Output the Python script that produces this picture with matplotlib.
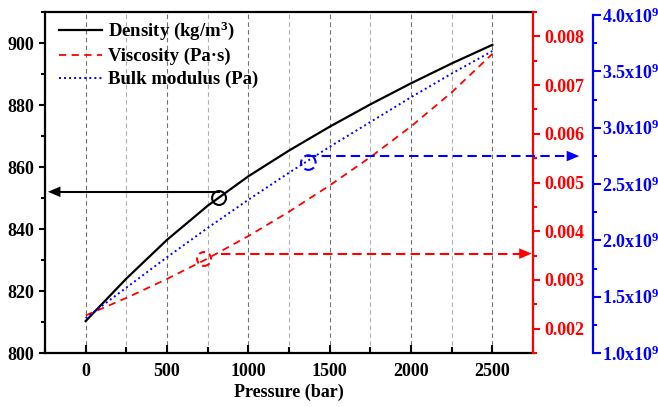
import matplotlib
matplotlib.use('Agg')
import matplotlib.pyplot as plt
from matplotlib.ticker import MultipleLocator, FuncFormatter

pressure = [0, 250, 500, 750, 1000, 1250, 1500, 1750, 2000, 2250, 2500]
density = [810.3, 824.0, 836.5, 847.5, 857.0, 865.3, 873.0, 880.2, 887.0, 893.4, 899.4]
viscosity = [0.00227, 0.00263, 0.00302, 0.00344, 0.00390, 0.00440,
             0.00494, 0.00552, 0.00615, 0.00685, 0.00764]
bulk_modulus = [1.31e9, 1.58e9, 1.85e9, 2.11e9, 2.36e9, 2.60e9,
                2.83e9, 3.05e9, 3.27e9, 3.48e9, 3.68e9]

labels = ['Density (kg/m$^3$)', 'Viscosity (Pa\u00b7s)', 'Bulk modulus (Pa)']

# circled point on each curve, and the level / ends of the arrow pointing to its axis
density_mark = (820, 850.0)
density_arrow = (820, -232, 852.0)
visc_mark = (728, 0.00343)
visc_arrow = (833, 2742, 0.00354)
bulk_mark = (1369, 2.69e9)
bulk_arrow = (1362, 3034, 2.748e9)

plt.rcParams['font.family'] = ['Liberation Serif', 'DejaVu Serif']
plt.rcParams['font.weight'] = 'bold'
plt.rcParams['mathtext.fontset'] = 'custom'
plt.rcParams['mathtext.rm'] = 'Liberation Serif:bold'
plt.rcParams['mathtext.bf'] = 'Liberation Serif:bold'
plt.rcParams['mathtext.it'] = 'Liberation Serif:bold'
plt.rcParams['mathtext.default'] = 'bf'

fig = plt.figure(figsize=(6.58, 4.07), dpi=100)
ax = fig.add_axes([45 / 658, 54 / 407, 488 / 658, 341 / 407])
ax2 = ax.twinx()
ax3 = ax.twinx()

l1, = ax.plot(pressure, density, color='black', lw=1.6, label=labels[0])
l2, = ax2.plot(pressure, viscosity, color='red', lw=1.3, ls=(0, (4, 3)), label=labels[1])
l3, = ax3.plot(pressure, bulk_modulus, color='blue', lw=1.4, ls=(0, (1, 1.6)), label=labels[2])

ax.set_xlim(-250, 2750)
ax.set_ylim(800, 910)
ax2.set_ylim(0.0015, 0.0085)
ax3.set_ylim(1.0e9, 1.0e9 + 3.0e9 * 341 / 338)

ax.xaxis.set_major_locator(MultipleLocator(500))
ax.xaxis.set_minor_locator(MultipleLocator(250))
ax.yaxis.set_major_locator(MultipleLocator(20))
ax.yaxis.set_minor_locator(MultipleLocator(10))
ax2.yaxis.set_major_locator(MultipleLocator(0.001))
ax2.yaxis.set_minor_locator(MultipleLocator(0.0005))
ax2.yaxis.set_major_formatter(FuncFormatter(lambda v, p: '%.3f' % v))
ax3.yaxis.set_major_locator(MultipleLocator(0.5e9))
ax3.yaxis.set_minor_locator(MultipleLocator(0.25e9))
ax3.yaxis.set_major_formatter(FuncFormatter(lambda v, p: '%.1fx10$^9$' % (v / 1e9)))

ax.grid(True, axis='x', which='major', color='#707070', ls=(0, (4, 3)), lw=0.8)
ax.grid(True, axis='x', which='minor', color='#b0b0b0', ls=(0, (4, 3)), lw=0.8)

ax.tick_params(axis='x', which='both', direction='in', top=False, labelsize=13, pad=7,
               width=1.5)
ax.tick_params(axis='x', which='major', length=5.5)
ax.tick_params(axis='x', which='minor', length=4)
ax.tick_params(axis='y', which='both', direction='out', labelsize=13, pad=3, width=1.5)
ax.tick_params(axis='y', which='major', length=4.5)
ax.tick_params(axis='y', which='minor', length=3)
ax2.tick_params(axis='y', which='both', colors='red', labelsize=13, pad=3, width=1.5)
ax2.tick_params(axis='y', which='major', length=5)
ax2.tick_params(axis='y', which='minor', length=3)
ax3.tick_params(axis='y', which='both', colors='blue', labelsize=13, pad=1, width=1.5)
ax3.tick_params(axis='y', which='major', length=5.5)
ax3.tick_params(axis='y', which='minor', length=3)

for s in ['left', 'bottom', 'top']:
    ax.spines[s].set_linewidth(1.6)
ax.spines['right'].set_visible(False)
for s in ['left', 'bottom', 'top']:
    ax2.spines[s].set_visible(False)
    ax3.spines[s].set_visible(False)
ax2.spines['right'].set_color('red')
ax2.spines['right'].set_linewidth(1.6)
ax3.spines['right'].set_position(('axes', 1.123))
ax3.spines['right'].set_color('blue')
ax3.spines['right'].set_linewidth(1.6)
ax3.spines['right'].set_bounds(1.0e9, 4.0e9)

ax.set_xlabel('Pressure (bar)', fontsize=13, fontweight='bold', labelpad=3)

# circles
ax.scatter(*density_mark, s=100, facecolors='none', edgecolors='black', lw=1.5, zorder=5)
ax2.scatter(*visc_mark, s=100, facecolors='none', edgecolors='red', lw=1.5,
            linestyles=(0, (3, 2)), zorder=5)
ax3.scatter(*bulk_mark, s=110, facecolors='none', edgecolors='blue', lw=1.5,
            linestyles=(0, (3, 2)), zorder=5)

# arrows to the axes
head = '-|>,head_length=0.9,head_width=0.38'
for a, (x0, x1, y), c, ls in [(ax, density_arrow, 'black', '-'),
                              (ax2, visc_arrow, 'red', (0, (4.5, 2.5))),
                              (ax3, bulk_arrow, 'blue', (0, (4.5, 2.5)))]:
    back = 70 if x1 > x0 else -70
    a.plot([x0, x1 - back], [y, y], color=c, lw=1.5, ls=ls, clip_on=False)
    a.annotate('', xy=(x1, y), xytext=(x1 - back, y), annotation_clip=False,
               arrowprops=dict(arrowstyle=head, mutation_scale=10, color=c, lw=0,
                               shrinkA=0, shrinkB=0))

ax.legend(handles=[l1, l2, l3], loc='upper left', bbox_to_anchor=(0.02, 0.988),
          frameon=False, fontsize=13.5, handlelength=2.3, handletextpad=0.35,
          labelspacing=0.3, borderaxespad=0, borderpad=0.2)

fig.savefig('out.png', dpi=100)
